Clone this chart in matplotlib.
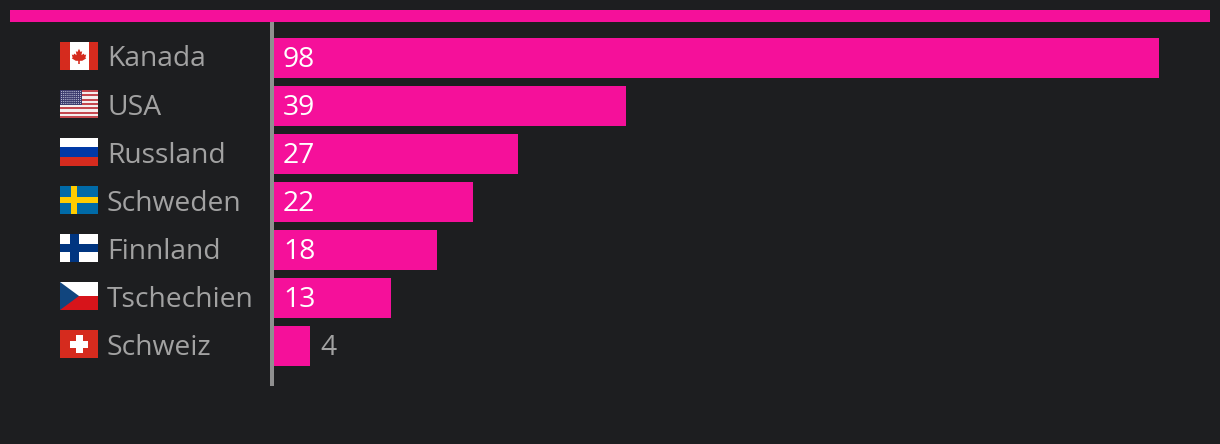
#!/usr/bin/env python3
import numpy as np
from matplotlib import pyplot as plt
from matplotlib.patches import Rectangle, Polygon, Circle

# values
countries = ['Kanada', 'USA', 'Russland', 'Schweden', 'Finnland', 'Tschechien', 'Schweiz']
values = [98, 39, 27, 22, 18, 13, 4]
flags = ['ca', 'us', 'ru', 'se', 'fi', 'cz', 'ch']

BG = '#1d1e20'
PINK = '#f5109a'
GREY = '#a2a2a2'
AXIS = '#8f8f8f'
W, H = 1220, 444
PX = 72 / 100  # points per pixel
FONT = 'Open Sans'
FS = 28.2 * PX

plt.rcParams['font.family'] = FONT

fig = plt.figure(figsize=(W / 100, H / 100), dpi=100, facecolor=BG)


def rect_px(l, t, r, b):
	return [l / W, 1 - b / H, (r - l) / W, (b - t) / H]


# overlay in pixel coords, for the top band and the flags
over = fig.add_axes([0, 0, 1, 1], zorder=0)
over.set_xlim(0, W)
over.set_ylim(H, 0)
over.axis('off')
over.add_patch(Rectangle((10, 10), 1200, 12, color=PINK, lw=0))

ax = fig.add_axes(rect_px(274, 22, 1210, 386), zorder=1)
ax.patch.set_alpha(0)
ax.set_xlim(0, 936 / 9.03)
ax.set_ylim(6.833, -0.75)
for s in ['top', 'right', 'bottom']:
	ax.spines[s].set_visible(False)
ax.spines['left'].set_color(AXIS)
ax.spines['left'].set_linewidth(4 * PX)
ax.spines['left'].set_position(('outward', 2 * PX))
ax.spines['left'].set_capstyle('butt')
ax.set_xticks([])
ax.set_yticks(range(len(countries)))
ax.set_yticklabels([])
ax.tick_params(axis='y', length=0)

y = np.arange(len(values))
ax.barh(y, values, height=40 / 48, color=PINK, lw=0)

for i, v in zip(y, values):
	if v > 10:
		ax.annotate(str(v), (0, i), xytext=(9 * PX, 2 * PX), textcoords='offset points',
					color='white', fontsize=FS, va='center_baseline', ha='left')
	else:
		ax.annotate(str(v), (v, i), xytext=(10 * PX, 2 * PX), textcoords='offset points',
					color=GREY, fontsize=FS, va='center_baseline', ha='left')


def box(x, y, w, h, c):
	over.add_patch(Rectangle((x, y), w, h, color=c, lw=0))


def draw_flag(code, x, y):
	# flag is 38 x 28 px
	if code == 'ca':
		box(x, y, 38, 28, '#ffffff')
		box(x, y, 9.5, 28, '#d52b1e')
		box(x + 28.5, y, 9.5, 28, '#d52b1e')
		leaf = [(0, -9), (2, -5), (4, -6), (3, -1), (6, -3), (7, -1), (9, -2), (8, 2), (9, 3),
				(4, 6), (1, 6), (1, 10), (-1, 10), (-1, 6), (-4, 6), (-9, 3), (-8, 2), (-9, -2),
				(-7, -1), (-6, -3), (-3, -1), (-4, -6), (-2, -5)]
		over.add_patch(Polygon([(x + 19 + a * 0.8, y + 14 + b * 0.8) for a, b in leaf], color='#d52b1e', lw=0))
	elif code == 'us':
		for k in range(13):
			c = '#c4474f' if k % 2 == 0 else '#f4eeee'
			box(x, y + k * 28 / 13, 38, 28 / 13 + 0.2, c)
		box(x, y, 22, 15, '#3c3b6e')
		for r in range(7):
			for q in range(10):
				over.add_patch(Circle((x + 1.6 + q * 2.1, y + 1.5 + r * 2.0), 0.55, color='#c8cbe0', lw=0))
	elif code == 'ru':
		box(x, y, 38, 9.5, '#ffffff')
		box(x, y + 9.3, 38, 9.5, '#0039a6')
		box(x, y + 18.7, 38, 9.3, '#d52b1e')
	elif code == 'se':
		box(x, y, 38, 28, '#006aa7')
		box(x + 11, y, 6, 28, '#fecc00')
		box(x, y + 11, 38, 6, '#fecc00')
	elif code == 'fi':
		box(x, y, 38, 28, '#ffffff')
		box(x + 10, y, 8.5, 28, '#003580')
		box(x, y + 10, 38, 8, '#003580')
	elif code == 'cz':
		box(x, y, 38, 14, '#ffffff')
		box(x, y + 14, 38, 14, '#d7141a')
		over.add_patch(Polygon([(x, y), (x + 19, y + 14), (x, y + 28)], color='#11457e', lw=0))
	elif code == 'ch':
		box(x, y, 38, 28, '#d52b1e')
		box(x + 15.5, y + 5, 7, 18, '#ffffff')
		box(x + 10, y + 10.5, 18, 7, '#ffffff')


for i, (name, code) in enumerate(zip(countries, flags)):
	cy = 58 + 48 * i
	draw_flag(code, 60, cy - 16)
	over.text(107, cy - 2, name, color=GREY, fontsize=FS, va='center_baseline', ha='left')

fig.savefig('out.png', dpi=100, facecolor=BG)
